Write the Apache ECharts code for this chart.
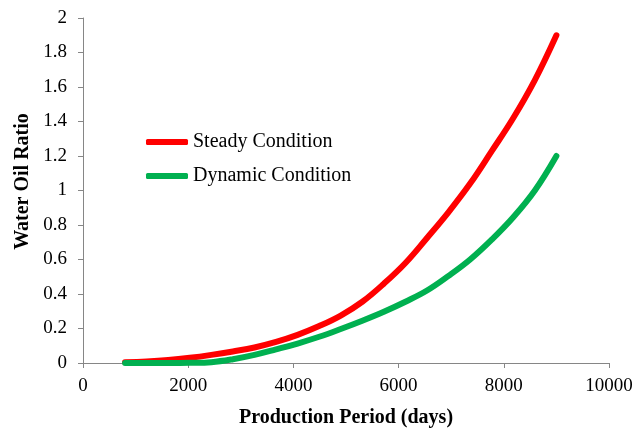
<!DOCTYPE html>
<html>
<head>
<meta charset="utf-8">
<script src="https://cdn.jsdelivr.net/npm/echarts@6/dist/echarts.min.js"></script>
<style>html,body{margin:0;padding:0;background:#fff}#c{width:644px;height:433px}</style>
</head>
<body>
<div id="c"></div>
<script>
var seriesNames = ['Steady Condition', 'Dynamic Condition'];
var days = [800, 1210, 1620, 2030, 2440, 2850, 3260, 3670, 4080, 4490, 4900, 5310, 5720, 6130, 6540, 6950, 7360, 7770, 8180, 8590, 9000];
var steadyWOR  = [0.005, 0.009, 0.017, 0.030, 0.047, 0.067, 0.090, 0.122, 0.163, 0.214, 0.275, 0.355, 0.46, 0.58, 0.725, 0.875, 1.04, 1.228, 1.42, 1.64, 1.9];
var dynamicWOR = [0, 0, 0, 0.001, 0.005, 0.022, 0.047, 0.079, 0.113, 0.152, 0.197, 0.245, 0.297, 0.355, 0.42, 0.505, 0.60, 0.715, 0.845, 1.00, 1.2];
var xTicks = [0, 2000, 4000, 6000, 8000, 10000];
var yTicks = [0, 0.2, 0.4, 0.6, 0.8, 1, 1.2, 1.4, 1.6, 1.8, 2];

function pairs(xs, ys) { return xs.map(function (x, i) { return [x, ys[i]]; }); }

var font = 'Liberation Serif';
var axisColor = '#868686';
var chart = echarts.init(document.getElementById('c'), null, { renderer: 'canvas' });
chart.setOption({
  animation: false,
  backgroundColor: '#ffffff',
  grid: { left: 83, right: 35, top: 18, bottom: 66, containLabel: false },
  legend: {
    orient: 'vertical',
    left: 141,
    top: 127,
    icon: 'roundRect',
    itemWidth: 42,
    itemHeight: 6,
    itemGap: 14,
    textStyle: { fontFamily: font, fontSize: 20, color: '#000' },
    data: seriesNames
  },
  xAxis: {
    type: 'value',
    min: xTicks[0],
    max: xTicks[xTicks.length - 1],
    interval: 2000,
    name: 'Production Period (days)',
    nameLocation: 'middle',
    nameGap: 45,
    nameTextStyle: { fontFamily: font, fontSize: 20, fontWeight: 'bold', color: '#000' },
    axisLine: { lineStyle: { color: axisColor, width: 1 } },
    axisTick: { show: true, length: 5, lineStyle: { color: axisColor } },
    axisLabel: { fontFamily: font, fontSize: 19, color: '#000', margin: 14,
      formatter: function (v) { return String(v); } },
    splitLine: { show: false }
  },
  yAxis: {
    type: 'value',
    min: yTicks[0],
    max: yTicks[yTicks.length - 1],
    interval: 0.2,
    name: 'Water Oil Ratio',
    nameLocation: 'middle',
    nameGap: 48,
    nameRotate: 90,
    nameTextStyle: { fontFamily: font, fontSize: 20, fontWeight: 'bold', color: '#000', padding: [0, 0, 0, 18] },
    axisLine: { show: true, lineStyle: { color: axisColor, width: 1 } },
    axisTick: { show: true, length: 5, lineStyle: { color: axisColor } },
    axisLabel: {
      fontFamily: font, fontSize: 19, color: '#000', margin: 16,
      formatter: function (v) { return String(Math.round(v * 10) / 10); }
    },
    splitLine: { show: false }
  },
  series: [
    {
      name: seriesNames[0], type: 'line', smooth: 0.4, showSymbol: false, symbol: 'none',
      data: pairs(days, steadyWOR),
      itemStyle: { color: '#FF0000' },
      lineStyle: { color: '#FF0000', width: 6, cap: 'round' }
    },
    {
      name: seriesNames[1], type: 'line', smooth: 0.4, showSymbol: false, symbol: 'none',
      data: pairs(days, dynamicWOR),
      itemStyle: { color: '#00B050' },
      lineStyle: { color: '#00B050', width: 6, cap: 'round' }
    }
  ]
});
</script>
</body>
</html>
